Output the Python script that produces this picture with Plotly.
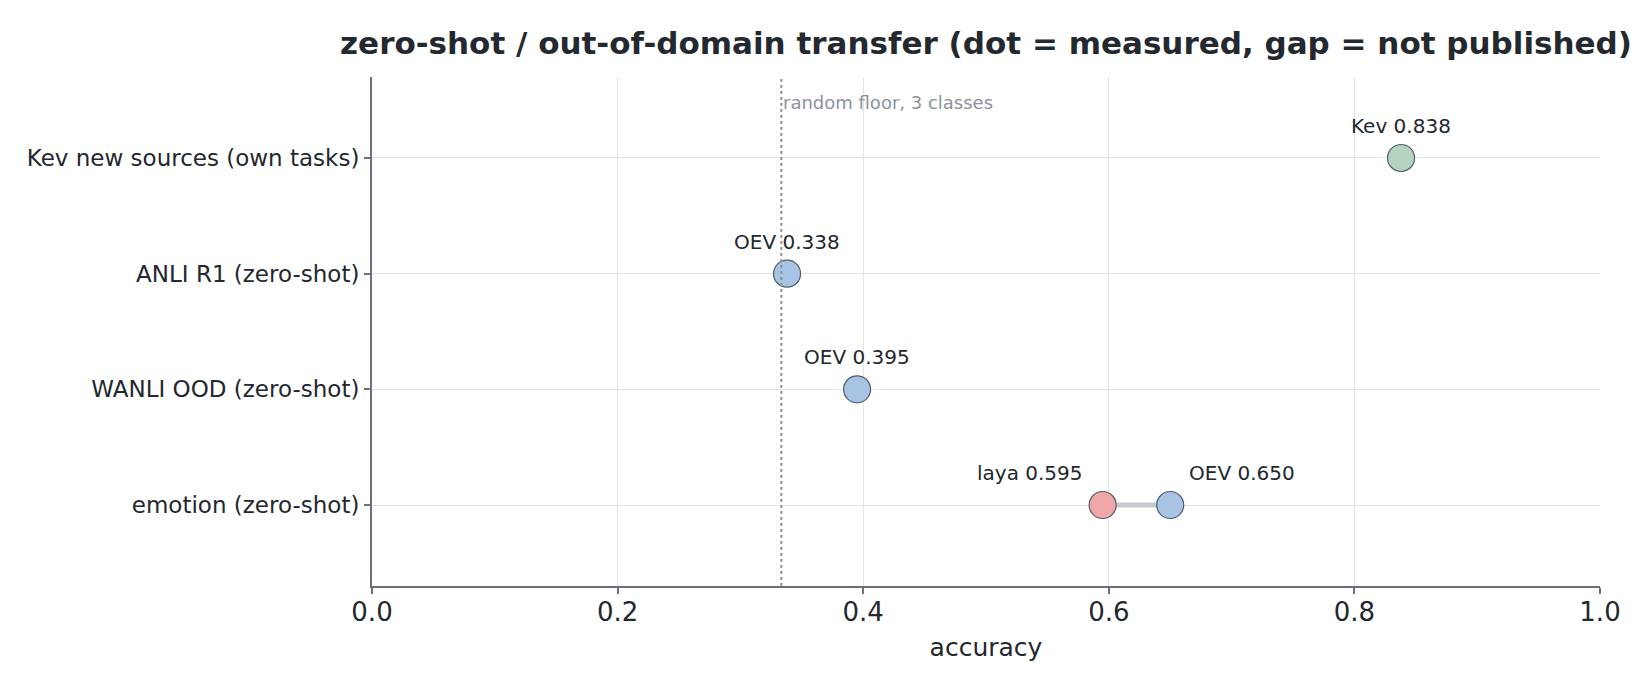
import plotly.graph_objects as go

# rows, bottom to top
tasks = ["emotion (zero-shot)", "WANLI OOD (zero-shot)",
         "ANLI R1 (zero-shot)", "Kev new sources (own tasks)"]
oev = [0.650, 0.395, 0.338, None]
laya = [0.595, None, None, None]
kev = [None, None, None, 0.838]
random_floor = 1 / 3

x_ticks = [0.0, 0.2, 0.4, 0.6, 0.8, 1.0]
x_tick_labels = ["0.0", "0.2", "0.4", "0.6", "0.8", "1.0"]

FONT = "DejaVu Sans"
INK = "#23272e"
AXIS = "#6b7079"
GRID = "#e2e2e2"

series = [
    ("OEV", oev, "#a7c4e5"),
    ("laya", laya, "#efa7a7"),
    ("Kev", kev, "#b4d4bf"),
]

fig = go.Figure()

# connector between measured points on the same row
for i, task in enumerate(tasks):
    vals = [s[1][i] for s in series if s[1][i] is not None]
    if len(vals) > 1:
        fig.add_trace(go.Scatter(
            x=[min(vals), max(vals)], y=[task, task], mode="lines",
            line=dict(color="#c6cacf", width=5), hoverinfo="skip",
            showlegend=False))

for name, vals, color in series:
    xs = [v for v in vals if v is not None]
    ys = [t for t, v in zip(tasks, vals) if v is not None]
    fig.add_trace(go.Scatter(
        x=xs, y=ys, mode="markers", name=name,
        marker=dict(size=27, color=color, line=dict(color="#525d69", width=1.2)),
        hoverinfo="skip", showlegend=False))

# value labels above points; split left/right when a row has two points
for i, task in enumerate(tasks):
    row = [(n, s[i]) for n, s, _ in series if s[i] is not None]
    row.sort(key=lambda p: p[1])
    for k, (name, v) in enumerate(row):
        if len(row) == 1:
            anchor, shift = "center", 0
        elif k == 0:
            anchor, shift = "right", -18
        else:
            anchor, shift = "left", 17
        fig.add_annotation(
            x=v, y=task, xref="x", yref="y", text=f"{name} {v:.3f}",
            showarrow=False, xanchor=anchor, xshift=shift, yshift=32,
            font=dict(family=FONT, size=20, color=INK))

fig.add_shape(type="line", x0=random_floor, x1=random_floor, xref="x",
              y0=0, y1=1, yref="paper",
              line=dict(color="#8d9199", width=2, dash="dot"))
fig.add_annotation(x=random_floor, y=1, xref="x", yref="paper",
                   text="random floor, 3 classes", showarrow=False,
                   xanchor="left", yanchor="top", xshift=0, yshift=-13,
                   font=dict(family=FONT, size=18, color="#8a939e"))

fig.update_layout(
    width=1650, height=690,
    paper_bgcolor="white", plot_bgcolor="white",
    margin=dict(l=364, r=58, t=69, b=112),
    title=dict(text="<b>zero-shot / out-of-domain transfer (dot = measured, gap = not published)</b>",
               x=(364 + 1592) / 2 / 1650, xanchor="center", y=1 - 35 / 690, yanchor="middle",
               font=dict(family=FONT, size=31, color="#24292f")),
    font=dict(family=FONT, color=INK),
)

fig.update_xaxes(
    range=[0, 1], tickvals=x_ticks, ticktext=x_tick_labels,
    showgrid=True, gridcolor=GRID, gridwidth=1, zeroline=False,
    showline=True, linecolor=AXIS, linewidth=2,
    ticks="outside", ticklen=6, tickcolor=AXIS, tickwidth=1.5,
    ticklabelstandoff=-4,
    tickfont=dict(family=FONT, size=26, color=INK),
    title=dict(text="accuracy", standoff=12,
               font=dict(family=FONT, size=25, color=INK)),
)
fig.update_yaxes(
    type="category", categoryorder="array", categoryarray=tasks,
    range=[-0.7, 3.7],
    showgrid=True, gridcolor=GRID, gridwidth=1, zeroline=False,
    showline=True, linecolor=AXIS, linewidth=2,
    ticks="outside", ticklen=6, tickcolor=AXIS, tickwidth=1.5,
    tickfont=dict(family=FONT, size=23, color=INK),
)

fig.write_html("out.html")
